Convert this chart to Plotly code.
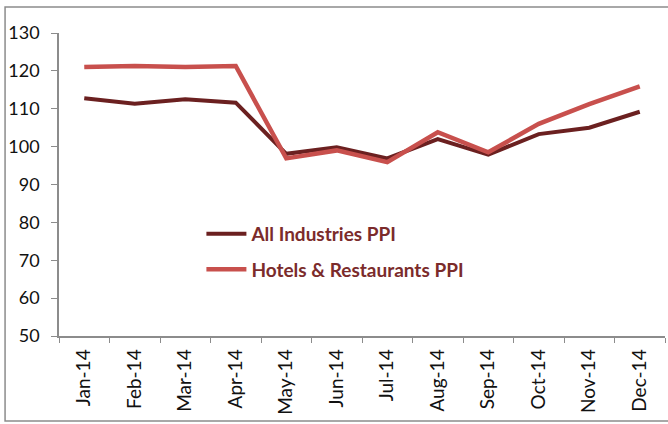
import plotly.graph_objects as go

months = ["Jan-14", "Feb-14", "Mar-14", "Apr-14", "May-14", "Jun-14",
          "Jul-14", "Aug-14", "Sep-14", "Oct-14", "Nov-14", "Dec-14"]
all_industries = [112.8, 111.3, 112.5, 111.6, 98.1, 99.8, 96.9, 102.0, 97.9, 103.3, 105.0, 109.2]
hotels_restaurants = [121.0, 121.3, 121.0, 121.3, 96.9, 99.0, 95.9, 103.8, 98.5, 106.0, 111.2, 115.9]
y_ticks = [50, 60, 70, 80, 90, 100, 110, 120, 130]

fig = go.Figure()
fig.add_trace(go.Scatter(x=months, y=all_industries, mode="lines",
                         name="All Industries PPI", legendgroup="a",
                         line=dict(color="#6B2020", width=4)))
fig.add_trace(go.Scatter(x=months, y=hotels_restaurants, mode="lines",
                         name="Hotels & Restaurants PPI", legendgroup="b",
                         line=dict(color="#C8504D", width=4.5)))

fig.update_layout(
    width=668, height=424,
    margin=dict(l=59, r=3, t=33, b=88),
    paper_bgcolor="white", plot_bgcolor="white",
    font=dict(family="Lato, Open Sans, sans-serif", size=18, color="#111111"),
    showlegend=True,
    legend=dict(x=0.235, y=0.40, xanchor="left", yanchor="top",
                bgcolor="rgba(0,0,0,0)", traceorder="grouped", tracegroupgap=8,
                itemwidth=40,
                font=dict(family="Lato, Open Sans, sans-serif", size=19, color="#7B2B2B", weight="bold")),
    xaxis=dict(type="category", showline=True, linecolor="#8c8c8c", linewidth=1.5,
               ticks="outside", tickson="boundaries", ticklen=5, tickcolor="#8c8c8c",
               tickangle=-90, showgrid=False, zeroline=False, ticklabelstandoff=4,
               tickfont=dict(size=19), range=[-0.5, 11.5]),
    yaxis=dict(range=[50, 130], tickvals=y_ticks, showline=True, linecolor="#8c8c8c",
               linewidth=1.5, ticks="outside", ticklen=6, tickcolor="#8c8c8c",
               showgrid=False, zeroline=False, ticklabelstandoff=8, tickfont=dict(size=18)),
    shapes=[dict(type="rect", xref="paper", yref="paper",
                 x0=-0.089, x1=1.02, y0=-0.2805, y1=1.0858,
                 line=dict(color="#8c8c8c", width=1.5), fillcolor="rgba(0,0,0,0)")],
)

fig.write_html("out.html", config={"displayModeBar": False},
               post_script="document.body.style.margin='0';")
